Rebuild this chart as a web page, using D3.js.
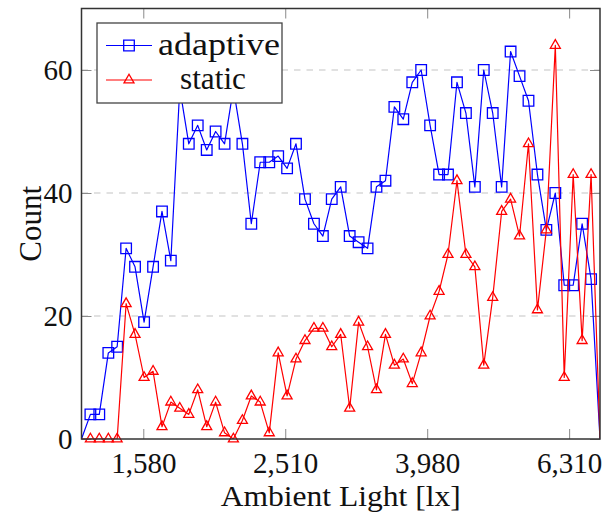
<!DOCTYPE html>
<html lang="en">
<head>
<meta charset="UTF-8">
<title>Ambient light histogram</title>
<script src="https://d3js.org/d3.v7.min.js"></script>
<style>
  body { margin: 0; background: #fff; }
  svg text { font-family: "Liberation Serif", "DejaVu Serif", serif; fill: #111; }
</style>
</head>
<body>
<svg id="chart" width="606" height="519"></svg>
<script>
// bin centres (lx), log spaced
var lux = [1297, 1335, 1374, 1415, 1456, 1499, 1543, 1589, 1636, 1684,
           1733, 1784, 1837, 1891, 1947, 2004, 2063, 2123, 2186, 2250,
           2316, 2385, 2455, 2527, 2601, 2678, 2757, 2838, 2921, 3007,
           3096, 3187, 3281, 3377, 3477, 3579, 3684, 3793, 3904, 4019,
           4138, 4259, 4385, 4514, 4647, 4783, 4924, 5069, 5218, 5372,
           5530, 5693, 5860, 6033, 6210, 6393, 6581, 6775, 6974]

var adaptive = [0, 4, 4, 14, 15, 31, 28, 19, 28, 37,
                29, 57, 48, 51, 47, 50, 48, 57, 48, 35,
                45, 45, 46, 44, 48, 39, 35, 33, 39, 41,
                33, 32, 31, 41, 42, 54, 52, 58, 60, 51,
                43, 43, 58, 53, 41, 60, 53, 41, 63, 59,
                55, 43, 34, 40, 25, 25, 35, 26, 0]

var staticCounts = [0, 0, 0, 0, 0, 22, 17, 10, 11, 2,
                    6, 5, 4, 8, 2, 6, 1, 0, 3, 7,
                    6, 1, 14, 7, 13, 16, 18, 18, 15, 17,
                    5, 19, 15, 8, 17, 12, 13, 9, 14, 20,
                    24, 30, 42, 30, 28, 12, 23, 37, 39, 33,
                    48, 21, 34, 64, 10, 43, 16, 43, 0]

var xTickValues = [1584.89, 2511.89, 3981.07, 6309.57]
var xTickLabels = ['1,580', '2,510', '3,980', '6,310']
var yTickValues = [0, 20, 40, 60]
var seriesNames = ['adaptive', 'static']

var plotL = 81.5, plotR = 600, plotT = 8.5, plotB = 439

var svg = d3.select('#chart')

var x = d3.scaleLog().domain([lux[0], lux[lux.length - 1]]).range([plotL, plotR])
var y = d3.scaleLinear().domain([0, 70]).range([plotB, plotT])

// grid
svg.append('g')
  .selectAll('line')
  .data(yTickValues.filter(function(d) { return d > 0 }))
  .enter().append('line')
  .attr('x1', plotL).attr('x2', plotR)
  .attr('y1', function(d) { return y(d) }).attr('y2', function(d) { return y(d) })
  .attr('stroke', '#c4c4c4').attr('stroke-width', 1.2)
  .attr('stroke-dasharray', '6.5,6')

// axes
function styleAxis(g) {
  g.select('.domain').remove()
  g.selectAll('.tick line').attr('stroke', '#8a8a8a').attr('stroke-width', 1)
  g.selectAll('.tick text').style('font-size', '29px').attr('fill', '#111')
}

svg.append('g')
  .attr('transform', 'translate(0,' + plotB + ')')
  .call(d3.axisBottom(x).tickValues(xTickValues)
    .tickFormat(function(d, i) { return xTickLabels[i] })
    .tickSizeInner(-10).tickSizeOuter(0).tickPadding(13))
  .call(styleAxis)

svg.append('g')
  .attr('transform', 'translate(0,' + plotT + ')')
  .call(d3.axisTop(x).tickValues(xTickValues).tickFormat('')
    .tickSizeInner(-10).tickSizeOuter(0))
  .call(styleAxis)

svg.append('g')
  .attr('transform', 'translate(' + plotL + ',0)')
  .call(d3.axisLeft(y).tickValues(yTickValues)
    .tickSizeInner(-10).tickSizeOuter(0).tickPadding(9))
  .call(styleAxis)

svg.append('g')
  .attr('transform', 'translate(' + plotR + ',0)')
  .call(d3.axisRight(y).tickValues(yTickValues).tickFormat('')
    .tickSizeInner(-10).tickSizeOuter(0))
  .call(styleAxis)

// series
svg.append('clipPath').attr('id', 'plotclip')
  .append('rect').attr('x', plotL).attr('y', plotT)
  .attr('width', plotR - plotL).attr('height', plotB - plotT)

var line = d3.line()
  .x(function(d) { return x(d[0]) })
  .y(function(d) { return y(d[1]) })

var squarePath = 'M-5.3,-5.3H5.3V5.3H-5.3Z'
var trianglePath = 'M0,-5.8L5,2.9L-5,2.9Z'

function drawSeries(values, color, markPath) {
  var pts = lux.map(function(l, i) { return [l, values[i]] })
  svg.append('path')
    .datum(pts)
    .attr('clip-path', 'url(#plotclip)')
    .attr('fill', 'none')
    .attr('stroke', color)
    .attr('stroke-width', 1.2)
    .attr('stroke-linejoin', 'round')
    .attr('d', line)

  // markers only for points inside the axis limits
  var inner = pts.filter(function(d, i) { return i > 0 && i < pts.length - 1 })
  svg.append('g')
    .selectAll('path')
    .data(inner)
    .enter().append('path')
    .attr('d', markPath)
    .attr('transform', function(d) { return 'translate(' + x(d[0]) + ',' + y(d[1]) + ')' })
    .attr('fill', 'none')
    .attr('stroke', color)
    .attr('stroke-width', 1.3)
}

drawSeries(adaptive, '#0000ff', squarePath)
drawSeries(staticCounts, '#ff0000', trianglePath)

// frame
svg.append('rect')
  .attr('x', plotL).attr('y', plotT)
  .attr('width', plotR - plotL).attr('height', plotB - plotT)
  .attr('fill', 'none').attr('stroke', '#333').attr('stroke-width', 1.5)

// axis labels
svg.append('text')
  .attr('x', (plotL + plotR) / 2).attr('y', 506)
  .attr('text-anchor', 'middle')
  .style('font-size', '30px')
  .attr('textLength', 240).attr('lengthAdjust', 'spacingAndGlyphs')
  .text('Ambient Light [lx]')

svg.append('text')
  .attr('transform', 'translate(41,' + ((plotT + plotB) / 2) + ') rotate(-90)')
  .attr('text-anchor', 'middle')
  .style('font-size', '31px')
  .text('Count')

// legend
var legend = svg.append('g')
legend.append('rect')
  .attr('x', 97).attr('y', 23).attr('width', 185).attr('height', 80)
  .attr('fill', '#fff').attr('stroke', '#444').attr('stroke-width', 1.3)

var legendColors = ['#0000ff', '#ff0000']
var legendMarks = [squarePath, trianglePath]
var legendRows = [45.5, 80]
var legendTextX = [219, 213]
var legendTextW = [122, 66]

seriesNames.forEach(function(name, i) {
  legend.append('line')
    .attr('x1', 106).attr('x2', 152)
    .attr('y1', legendRows[i]).attr('y2', legendRows[i])
    .attr('stroke', legendColors[i]).attr('stroke-width', 1.2)
  legend.append('path')
    .attr('d', legendMarks[i])
    .attr('transform', 'translate(129,' + legendRows[i] + ')')
    .attr('fill', 'none').attr('stroke', legendColors[i]).attr('stroke-width', 1.3)
  legend.append('text')
    .attr('x', legendTextX[i]).attr('y', legendRows[i] + 9)
    .attr('text-anchor', 'middle')
    .style('font-size', '31px')
    .attr('textLength', legendTextW[i]).attr('lengthAdjust', 'spacingAndGlyphs')
    .text(name)
})
</script>
</body>
</html>
